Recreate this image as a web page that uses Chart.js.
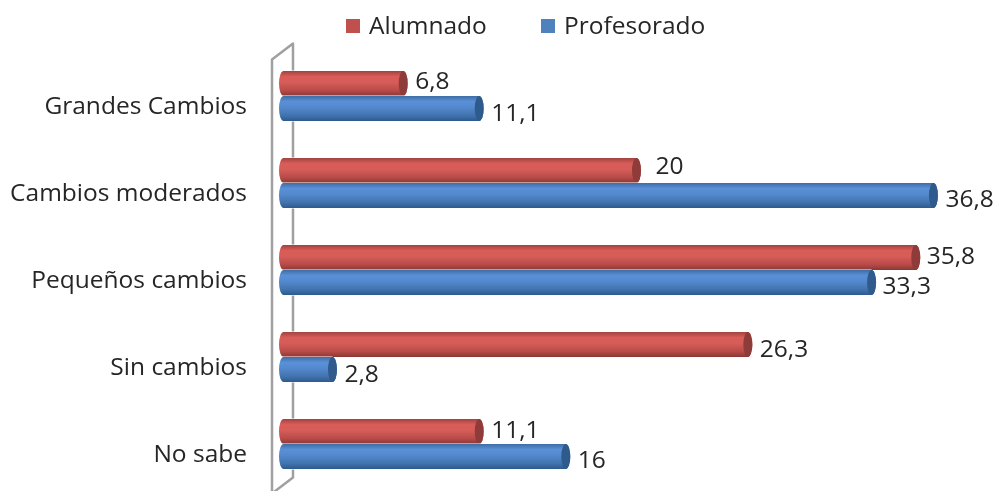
<!DOCTYPE html>
<html lang="es">
<head>
<meta charset="utf-8">
<title>Cambios</title>
<script src="https://cdn.jsdelivr.net/npm/chart.js@4/dist/chart.umd.min.js"></script>
<style>
html,body{margin:0;padding:0;background:#fff}
canvas{display:block}
</style>
</head>
<body>
<canvas id="chart" width="996" height="491"></canvas>
<script>
const categories=['Grandes Cambios','Cambios moderados','Pequeños cambios','Sin cambios','No sabe'];
const alumnado=[6.8,20,35.8,26.3,11.1];
const profesorado=[11.1,36.8,33.3,2.8,16];

// hand tweaks for value labels, [dx,dy] from the end of the bar
const alumnadoNudge=[[12,-1],[19,-3],[11,0],[12,6],[12,0]];
const profesoradoNudge=[[12,6],[12,5],[11,5],[12,6],[12,5]];

const FONT='"Open Sans",sans-serif';
const SIZE=24.5;
const TEXT='#262626';
const tones={
  Alumnado:{flat:'#c0504d',end:'#8e3b39',stops:['#a04340','#d95c58','#d65d59','#b84b48','#8a3735']},
  Profesorado:{flat:'#4f81bd',end:'#2f5a8c',stops:['#3f6ca3','#5a90d8','#5489cd','#4173ae','#2e5a8e']}
};
const fmt=v=>String(v).replace('.',',');

const cylinders={
  id:'cylinders',
  beforeDatasetsDraw(chart){
    const {ctx,chartArea:a}=chart;
    ctx.save();
    ctx.strokeStyle='#a0a0a0';
    ctx.lineWidth=2.5;
    ctx.lineJoin='round';
    ctx.beginPath();
    ctx.moveTo(a.left-11,491);
    ctx.lineTo(a.left-11,a.top+7);
    ctx.lineTo(a.left+10,a.top-9);
    ctx.lineTo(a.left+10,a.bottom-10);
    ctx.lineTo(a.left-11,a.bottom+6);
    ctx.stroke();
    ctx.restore();
  },
  afterDatasetsDraw(chart){
    const {ctx,chartArea:a}=chart;
    chart.data.datasets.forEach((ds,i)=>{
      const tone=tones[ds.label];
      const nudge=i===0?alumnadoNudge:profesoradoNudge;
      chart.getDatasetMeta(i).data.forEach((bar,j)=>{
        const h=bar.height,top=bar.y-h/2,x0=a.left-4,rx=4.5;
        const g=ctx.createLinearGradient(0,top,0,top+h);
        tone.stops.forEach((c,k)=>g.addColorStop([0,.22,.45,.78,1][k],c));
        ctx.save();
        ctx.fillStyle='#fff';
        ctx.fillRect(a.left-1,top-.5,bar.x-a.left+1,h+1);
        ctx.fillStyle=g;
        ctx.beginPath();
        ctx.ellipse(x0+rx,bar.y,rx,h/2,0,Math.PI/2,Math.PI*1.5);
        ctx.lineTo(bar.x,top);
        ctx.ellipse(bar.x,bar.y,rx,h/2,0,-Math.PI/2,Math.PI/2);
        ctx.closePath();
        ctx.fill();
        ctx.fillStyle=tone.end;
        ctx.beginPath();
        ctx.ellipse(bar.x,bar.y,rx,h/2,0,0,Math.PI*2);
        ctx.fill();
        ctx.fillStyle=TEXT;
        ctx.font=SIZE+'px '+FONT;
        ctx.textAlign='left';
        ctx.textBaseline='middle';
        ctx.fillText(fmt(ds.data[j]),bar.x+nudge[j][0],bar.y+nudge[j][1]);
        ctx.restore();
      });
    });
  },
  afterDraw(chart){
    const {ctx}=chart;
    const starts=[346,541];
    ctx.save();
    ctx.font=SIZE+'px '+FONT;
    ctx.textBaseline='middle';
    ctx.textAlign='left';
    chart.data.datasets.forEach((ds,i)=>{
      ctx.fillStyle=tones[ds.label].flat;
      ctx.fillRect(starts[i],19,14,14);
      ctx.fillStyle=TEXT;
      ctx.fillText(ds.label,starts[i]+23,27);
    });
    ctx.restore();
  }
};

new Chart(document.getElementById('chart'),{
  type:'bar',
  data:{
    labels:categories,
    datasets:[
      {label:'Alumnado',data:alumnado,backgroundColor:tones.Alumnado.flat},
      {label:'Profesorado',data:profesorado,backgroundColor:tones.Profesorado.flat}
    ]
  },
  options:{
    indexAxis:'y',
    responsive:false,
    animation:false,
    layout:{padding:{top:52.5,bottom:3.5,left:0,right:6}},
    datasets:{bar:{barPercentage:1,categoryPercentage:.575}},
    plugins:{legend:{display:false},tooltip:{enabled:false}},
    scales:{
      x:{display:false,min:0,max:40},
      y:{
        afterFit(s){s.width=283;s.paddingTop=0;s.paddingBottom=0;},
        // tick length instead of tick padding, padding eats into the plot height
        grid:{display:false,drawTicks:true,tickLength:36},
        border:{display:false},
        ticks:{color:TEXT,font:{family:FONT,size:SIZE},padding:0,labelOffset:11}
      }
    }
  },
  plugins:[cylinders]
});
</script>
</body>
</html>
